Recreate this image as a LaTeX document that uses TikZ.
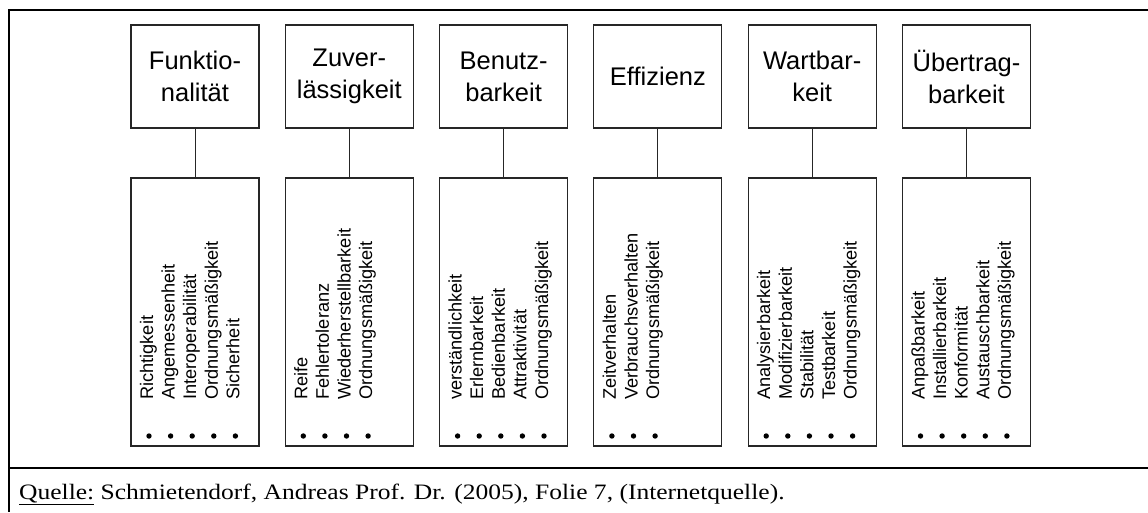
\documentclass[tikz,border=0pt]{standalone}
\usepackage{fontspec}
\setmainfont{Liberation Sans}
\newfontfamily\footserif{Liberation Serif}
\begin{document}
\begin{tikzpicture}[x=1pt,y=-1pt,
  frame/.style={line width=2pt,black},
  head/.style={draw=black!85,line width=1.1pt,minimum width=128pt,minimum height=103pt,
    align=center,inner sep=0pt,font=\fontsize{25.5}{32}\selectfont},
  sub/.style={draw=black!85,line width=1.1pt,minimum width=128pt,minimum height=268pt,inner sep=0pt},
  link/.style={draw=black!85,line width=1pt},
  item/.style={rotate=90,anchor=base west,inner sep=0pt,font=\fontsize{18.2}{21.6}\selectfont},
  bullet/.style={circle,fill=black,inner sep=0pt,minimum size=5.4pt}]
\useasboundingbox (0,0) rectangle (1148,512);
% outer frame and footer rule
\draw[frame] (1148,10) -- (9,10) -- (9,512);
\draw[frame] (9,468) -- (1148,468);
% characteristic columns
\foreach \i/\title/\items in {
  1/{Funktio-\\nalität}/{Richtigkeit,Angemessenheit,Interoperabilität,Ordnungsmäßigkeit,Sicherheit},
  2/{Zuver-\\lässigkeit}/{Reife,Fehlertoleranz,Wiederherstellbarkeit,Ordnungsmäßigkeit},
  3/{Benutz-\\barkeit}/{verständlichkeit,Erlernbarkeit,Bedienbarkeit,Attraktivität,Ordnungsmäßigkeit},
  4/{Effizienz}/{Zeitverhalten,Verbrauchsverhalten,Ordnungsmäßigkeit},
  5/{Wartbar-\\keit}/{Analysierbarkeit,Modifizierbarkeit,Stabilität,Testbarkeit,Ordnungsmäßigkeit},
  6/{Übertrag-\\barkeit}/{Anpaßbarkeit,Installierbarkeit,Konformität,Austauschbarkeit,Ordnungsmäßigkeit}}{
  \pgfmathsetmacro{\cx}{195+(\i-1)*154.3}
  \node[head] (t\i) at (\cx,76.5) {\title};
  \node[sub] (b\i) at (\cx,312) {};
  \draw[link] (t\i.south) -- (b\i.north);
  \foreach \txt [count=\k from 0] in \items {
    \node[item] (l\i-\k) at (\cx-42+\k*21.6,400) {\txt};
    \node[bullet] (d\i-\k) at (\cx-46+\k*21.6,436) {};
  }
}
% source line
\node[anchor=base west,inner sep=0pt,font=\footserif\fontsize{22}{26}\selectfont] (src) at (19,499)
  {\scalebox{1.16}[1]{\underline{Quelle:} Schmietendorf, Andreas Prof. Dr. (2005), Folie 7, (Internetquelle).}};
\end{tikzpicture}
\end{document}
